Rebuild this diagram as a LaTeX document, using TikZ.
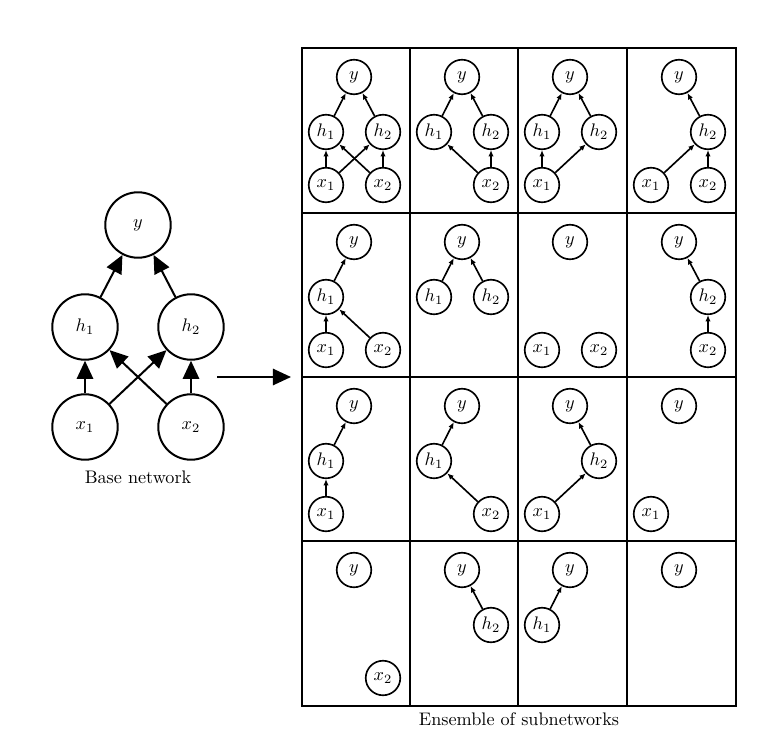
\documentclass[tikz,border=0pt]{standalone}
\usepackage{amsmath}
\usepackage{tikz}
\usetikzlibrary{arrows.meta}

\tikzset{
  base/.style={circle,draw,line width=1.1pt,minimum size=36pt,inner sep=0pt},
  sub/.style={circle,draw,line width=0.9pt,minimum size=19pt,inner sep=0pt},
  basearr/.style={-{Triangle[length=10pt,width=9pt]},line width=1.1pt},
  subarr/.style={-{Latex[length=3.5pt,width=3pt]},line width=0.9pt},
  grid/.style={line width=1pt}
}

% nodes of one subnetwork cell
\newcommand{\suby}{\node[sub] (y) at (52,29) {$y$};}
\newcommand{\subha}{\node[sub] (h1) at (24,84) {$h_1$};}
\newcommand{\subhb}{\node[sub] (h2) at (81,84) {$h_2$};}
\newcommand{\subxa}{\node[sub] (x1) at (24,137) {$x_1$};}
\newcommand{\subxb}{\node[sub] (x2) at (81,137) {$x_2$};}

\begin{document}
\begin{tikzpicture}[x=0.55pt,y=-0.55pt]
\useasboundingbox (0,0) rectangle (783,740);

% base network
\node[base] (y) at (138,225) {$y$};
\node[base] (h1) at (85,327) {$h_1$};
\node[base] (h2) at (191,327) {$h_2$};
\node[base] (x1) at (85,427) {$x_1$};
\node[base] (x2) at (191,427) {$x_2$};

\draw[basearr] (h1) -- (y);
\draw[basearr] (h2) -- (y);
\draw[basearr] (x1) -- (h1);
\draw[basearr] (x2) -- (h2);
\draw[basearr] (x1) -- (h2);
\draw[basearr] (x2) -- (h1);

\node (baselbl) at (138,477) {Base network};

\coordinate (arrfrom) at (217,377);
\coordinate (arrto) at (291,377);
\draw[basearr] (arrfrom) -- (arrto);

% grid of subnetworks
\draw[grid] (302,48) rectangle (736,706);
\draw[grid] (410,48) -- (410,706);
\draw[grid] (518,48) -- (518,706);
\draw[grid] (627,48) -- (627,706);
\draw[grid] (302,213) -- (736,213);
\draw[grid] (302,377) -- (736,377);
\draw[grid] (302,541) -- (736,541);

\node (enslbl) at (519,719) {Ensemble of subnetworks};

% row 1
\begin{scope}[shift={(302,48)},name prefix=a-]
\suby \subha \subhb \subxa \subxb
\draw[subarr] (x1) -- (h1);
\draw[subarr] (x1) -- (h2);
\draw[subarr] (x2) -- (h1);
\draw[subarr] (x2) -- (h2);
\draw[subarr] (h1) -- (y);
\draw[subarr] (h2) -- (y);
\end{scope}

\begin{scope}[shift={(410,48)},name prefix=b-]
\suby \subha \subhb \subxb
\draw[subarr] (x2) -- (h1);
\draw[subarr] (x2) -- (h2);
\draw[subarr] (h1) -- (y);
\draw[subarr] (h2) -- (y);
\end{scope}

\begin{scope}[shift={(518,48)},name prefix=c-]
\suby \subha \subhb \subxa
\draw[subarr] (x1) -- (h1);
\draw[subarr] (x1) -- (h2);
\draw[subarr] (h1) -- (y);
\draw[subarr] (h2) -- (y);
\end{scope}

\begin{scope}[shift={(627,48)},name prefix=d-]
\suby \subhb \subxa \subxb
\draw[subarr] (x1) -- (h2);
\draw[subarr] (x2) -- (h2);
\draw[subarr] (h2) -- (y);
\end{scope}

% row 2
\begin{scope}[shift={(302,213)},name prefix=e-]
\suby \subha \subxa \subxb
\draw[subarr] (x1) -- (h1);
\draw[subarr] (x2) -- (h1);
\draw[subarr] (h1) -- (y);
\end{scope}

\begin{scope}[shift={(410,213)},name prefix=f-]
\suby \subha \subhb
\draw[subarr] (h1) -- (y);
\draw[subarr] (h2) -- (y);
\end{scope}

\begin{scope}[shift={(518,213)},name prefix=g-]
\suby \subxa \subxb
\end{scope}

\begin{scope}[shift={(627,213)},name prefix=h-]
\suby \subhb \subxb
\draw[subarr] (x2) -- (h2);
\draw[subarr] (h2) -- (y);
\end{scope}

% row 3
\begin{scope}[shift={(302,377)},name prefix=i-]
\suby \subha \subxa
\draw[subarr] (x1) -- (h1);
\draw[subarr] (h1) -- (y);
\end{scope}

\begin{scope}[shift={(410,377)},name prefix=j-]
\suby \subha \subxb
\draw[subarr] (x2) -- (h1);
\draw[subarr] (h1) -- (y);
\end{scope}

\begin{scope}[shift={(518,377)},name prefix=k-]
\suby \subhb \subxa
\draw[subarr] (x1) -- (h2);
\draw[subarr] (h2) -- (y);
\end{scope}

\begin{scope}[shift={(627,377)},name prefix=l-]
\suby \subxa
\end{scope}

% row 4
\begin{scope}[shift={(302,541)},name prefix=m-]
\suby \subxb
\end{scope}

\begin{scope}[shift={(410,541)},name prefix=n-]
\suby \subhb
\draw[subarr] (h2) -- (y);
\end{scope}

\begin{scope}[shift={(518,541)},name prefix=o-]
\suby \subha
\draw[subarr] (h1) -- (y);
\end{scope}

\begin{scope}[shift={(627,541)},name prefix=p-]
\suby
\end{scope}
\end{tikzpicture}
\end{document}
